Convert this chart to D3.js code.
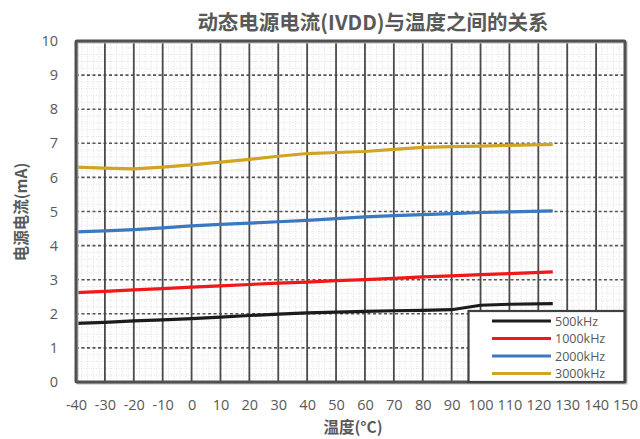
<!DOCTYPE html>
<html><head><meta charset="utf-8">
<script src="https://cdn.jsdelivr.net/npm/d3@7"></script>
<style>
html,body{margin:0;padding:0;background:#fff;}
svg{display:block;}
text{font-family:"Open Sans","Noto Sans CJK SC",sans-serif;}
</style></head>
<body>
<svg id="c" width="640" height="439"></svg>
<script>
const title = "动态电源电流(IVDD)与温度之间的关系";
const xLabel = "温度(°C)";
const yLabel = "电源电流(mA)";
const xTicks = [-40,-30,-20,-10,0,10,20,30,40,50,60,70,80,90,100,110,120,130,140,150];
const yTicks = [0,1,2,3,4,5,6,7,8,9,10];
const temps = [-40,-30,-20,-10,0,10,20,30,40,50,60,70,80,90,100,110,125];
const s500  = [1.72,1.75,1.79,1.82,1.86,1.90,1.95,1.99,2.03,2.05,2.07,2.09,2.10,2.12,2.25,2.28,2.30];
const s1000 = [2.62,2.66,2.70,2.74,2.78,2.82,2.86,2.90,2.93,2.97,3.00,3.04,3.08,3.11,3.15,3.18,3.23];
const s2000 = [4.40,4.43,4.47,4.52,4.58,4.62,4.66,4.70,4.74,4.79,4.84,4.88,4.91,4.94,4.97,4.99,5.02];
const s3000 = [6.30,6.27,6.25,6.30,6.37,6.45,6.53,6.62,6.70,6.73,6.76,6.82,6.88,6.90,6.92,6.94,6.97];
const seriesNames = ["500kHz","1000kHz","2000kHz","3000kHz"];
const seriesColors = ["#1c1c1c","#f01818","#3a78bf","#d1a423"];
const seriesData = [s500,s1000,s2000,s3000];

const svg = d3.select("#c");
const L=76, R=625, T=41, B=382;
const x = d3.scaleLinear().domain([-40,150]).range([L,R]);
const y = d3.scaleLinear().domain([0,10]).range([B,T]);

svg.append("rect").attr("x",L).attr("y",T).attr("width",R-L).attr("height",B-T).attr("fill","#fff");

const g = svg.append("g");
g.selectAll(".mx").data(d3.range(-40,150.01,2)).enter().append("line")
 .attr("x1",d=>x(d)).attr("x2",d=>x(d)).attr("y1",T).attr("y2",B)
 .attr("stroke","#d6d6d6").attr("stroke-width",0.7).attr("stroke-dasharray","1,1.5");
g.selectAll(".my").data(d3.range(0,10.01,0.2)).enter().append("line")
 .attr("y1",d=>y(d)).attr("y2",d=>y(d)).attr("x1",L).attr("x2",R)
 .attr("stroke","#d6d6d6").attr("stroke-width",0.7).attr("stroke-dasharray","1,1.5");

g.selectAll(".hy").data(yTicks).enter().append("line")
 .attr("y1",d=>y(d)).attr("y2",d=>y(d)).attr("x1",L).attr("x2",R)
 .attr("stroke","#555").attr("stroke-width",1.6).attr("stroke-dasharray","3,2.5");
g.selectAll(".vx").data(xTicks).enter().append("line")
 .attr("x1",d=>x(d)).attr("x2",d=>x(d)).attr("y1",T).attr("y2",B)
 .attr("stroke","#4a4a4a").attr("stroke-width",1.8);

const line = d3.line().x((d,i)=>x(temps[i])).y(d=>y(d));
seriesData.forEach((s,i)=>{
  svg.append("path").datum(s).attr("d",line).attr("fill","none")
   .attr("stroke",seriesColors[i]).attr("stroke-width",3.2).attr("stroke-linejoin","round");
});

svg.append("rect").attr("x",L+1.5).attr("y",T+1.5).attr("width",R-L).attr("height",B-T)
 .attr("fill","none").attr("stroke","#bbb").attr("stroke-width",2);
svg.append("rect").attr("x",L).attr("y",T).attr("width",R-L).attr("height",B-T)
 .attr("fill","none").attr("stroke","#505050").attr("stroke-width",3).attr("rx",1);

const xa = svg.append("g").attr("transform",`translate(0,${B+4})`)
 .call(d3.axisBottom(x).tickValues(xTicks).tickSize(0).tickPadding(14).tickFormat(d=>String(d)));
xa.select(".domain").remove();
xa.selectAll("text").attr("fill","#595959").style("font-size","14.5px");
const ya = svg.append("g").attr("transform",`translate(${L-4},0)`)
 .call(d3.axisLeft(y).tickValues(yTicks).tickSize(0).tickPadding(14).tickFormat(d=>String(d)));
ya.select(".domain").remove();
ya.selectAll("text").attr("fill","#595959").style("font-size","14.5px");

svg.append("text").attr("x",373).attr("y",30).attr("text-anchor","middle")
 .attr("fill","#595959").style("font-size","20.5px").style("font-weight","bold")
 .style("font-family","'Noto Sans CJK SC',sans-serif").text(title);
svg.append("text").attr("x",353).attr("y",433).attr("text-anchor","middle")
 .attr("fill","#595959").style("font-size","15.5px").style("font-weight","bold")
 .style("font-family","'Noto Sans CJK SC',sans-serif").text(xLabel);
svg.append("text").attr("transform","translate(27,212) rotate(-90)").attr("text-anchor","middle")
 .attr("fill","#595959").style("font-size","15.5px").style("font-weight","bold")
 .style("font-family","'Noto Sans CJK SC',sans-serif").text(yLabel);

const lg = svg.append("g");
lg.append("rect").attr("x",468.5).attr("y",311).attr("width",156).attr("height",71)
 .attr("fill","#fff").attr("stroke","#404040").attr("stroke-width",2.2);
seriesNames.forEach((n,i)=>{
  const yy = 321 + i*17.5;
  lg.append("line").attr("x1",492).attr("x2",551).attr("y1",yy).attr("y2",yy)
   .attr("stroke",seriesColors[i]).attr("stroke-width",3.2);
  lg.append("text").attr("x",555).attr("y",yy+4.5).attr("fill","#595959")
   .style("font-size","12.5px").text(n);
});
</script>
</body></html>
